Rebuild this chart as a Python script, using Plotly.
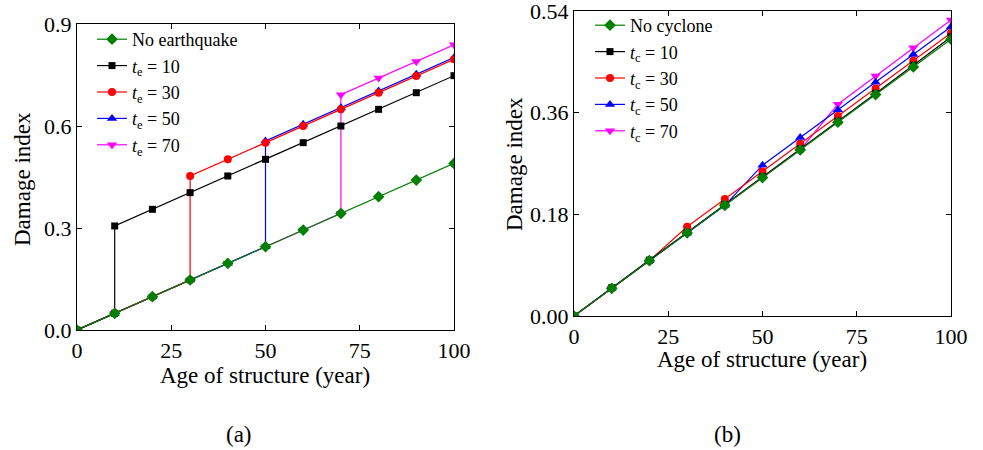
import plotly.graph_objects as go

# ---------------- data ----------------
years = [0, 10, 20, 30, 40, 50, 60, 70, 80, 90, 100]

# (a) earthquake
no_eq = [0, 0.049, 0.098, 0.147, 0.196, 0.245, 0.294, 0.343, 0.392, 0.441, 0.490]
te10_x = [0, 10, 10, 20, 30, 40, 50, 60, 70, 80, 90, 100]
te10_y = [0, 0.049, 0.306, 0.355, 0.404, 0.453, 0.502, 0.551, 0.600, 0.649, 0.698, 0.748]
te30_x = [0, 10, 20, 30, 30, 40, 50, 60, 70, 80, 90, 100]
te30_y = [0, 0.049, 0.098, 0.147, 0.453, 0.502, 0.551, 0.600, 0.649, 0.698, 0.747, 0.796]
te50_x = [0, 10, 20, 30, 40, 50, 50, 60, 70, 80, 90, 100]
te50_y = [0, 0.049, 0.098, 0.147, 0.196, 0.245, 0.556, 0.605, 0.654, 0.703, 0.752, 0.801]
te70_x = [0, 10, 20, 30, 40, 50, 60, 70, 70, 80, 90, 100]
te70_y = [0, 0.049, 0.098, 0.147, 0.196, 0.245, 0.294, 0.343, 0.692, 0.741, 0.790, 0.839]

# (b) cyclone
no_cy = [0, 0.049, 0.098, 0.147, 0.196, 0.245, 0.294, 0.343, 0.392, 0.441, 0.490]
tc10 = [0, 0.050, 0.099, 0.148, 0.197, 0.247, 0.296, 0.345, 0.394, 0.444, 0.494]
tc30 = [0, 0.049, 0.098, 0.158, 0.207, 0.256, 0.305, 0.354, 0.403, 0.452, 0.501]
tc50 = [0, 0.049, 0.098, 0.147, 0.196, 0.267, 0.316, 0.365, 0.414, 0.463, 0.512]
tc70 = [0, 0.049, 0.098, 0.147, 0.196, 0.245, 0.294, 0.375, 0.425, 0.475, 0.524]

x_ticks = [0, 25, 50, 75, 100]
ya_ticks = [0.0, 0.3, 0.6, 0.9]
ya_labels = ["0.0", "0.3", "0.6", "0.9"]
yb_ticks = [0.0, 0.18, 0.36, 0.54]
yb_labels = ["0.00", "0.18", "0.36", "0.54"]

GREEN, BLACK, RED, BLUE, MAG = "#008000", "#000000", "#FF0000", "#0000FF", "#FF00FF"
FONT = "Liberation Serif, Times New Roman, serif"

fig = go.Figure()

def add(x, y, name, color, symbol, xa, ya, legend, rank, size=8):
    fig.add_trace(go.Scatter(
        x=x, y=y, name=name, mode="lines+markers",
        line=dict(color=color, width=1.2),
        marker=dict(color=color, symbol=symbol, size=size),
        xaxis=xa, yaxis=ya, legend=legend, legendrank=rank))

# (a)
add(te70_x, te70_y, "<i>t</i><sub>e</sub> = 70", MAG, "triangle-down", "x", "y", "legend", 5, 9)
add(te50_x, te50_y, "<i>t</i><sub>e</sub> = 50", BLUE, "triangle-up", "x", "y", "legend", 4, 9)
add(te30_x, te30_y, "<i>t</i><sub>e</sub> = 30", RED, "circle", "x", "y", "legend", 3)
add(te10_x, te10_y, "<i>t</i><sub>e</sub> = 10", BLACK, "square", "x", "y", "legend", 2, 7)
add(years, no_eq, "No earthquake", GREEN, "diamond", "x", "y", "legend", 1, 9)

# (b)
add(years, tc70, "<i>t</i><sub>c</sub> = 70", MAG, "triangle-down", "x2", "y2", "legend2", 5, 9)
add(years, tc50, "<i>t</i><sub>c</sub> = 50", BLUE, "triangle-up", "x2", "y2", "legend2", 4, 9)
add(years, tc30, "<i>t</i><sub>c</sub> = 30", RED, "circle", "x2", "y2", "legend2", 3)
add(years, tc10, "<i>t</i><sub>c</sub> = 10", BLACK, "square", "x2", "y2", "legend2", 2, 7)
add(years, no_cy, "No cyclone", GREEN, "diamond", "x2", "y2", "legend2", 1, 9)

W, H = 983, 450
def px(v): return v / W
def py(v): return 1 - v / H

axis_common = dict(showline=True, linecolor="black", linewidth=1.3, mirror="ticks",
                   ticks="inside", ticklen=5, tickwidth=1, tickcolor="black",
                   showgrid=False, zeroline=False, automargin=False,
                   ticklabeloverflow="allow",
                   tickfont=dict(family=FONT, size=22, color="black"))

fig.update_layout(
    width=W, height=H, margin=dict(l=0, r=0, t=0, b=0, autoexpand=False),
    paper_bgcolor="white", plot_bgcolor="white",
    font=dict(family=FONT, color="black"),
    xaxis=dict(domain=[px(77), px(454)], range=[0, 100], tickvals=x_ticks,
               anchor="y", **axis_common),
    yaxis=dict(domain=[py(330), py(24)], range=[0, 0.9], tickvals=ya_ticks,
               ticktext=ya_labels, anchor="x", **axis_common),
    xaxis2=dict(domain=[px(574), px(951)], range=[0, 100], tickvals=x_ticks,
                anchor="y2", **axis_common),
    yaxis2=dict(domain=[py(316), py(11)], range=[0, 0.54], tickvals=yb_ticks,
                ticktext=yb_labels, anchor="x2", **axis_common),
    legend=dict(x=px(92), y=py(21), xanchor="left", yanchor="top",
                bgcolor="rgba(0,0,0,0)", font=dict(family=FONT, size=18),
                tracegroupgap=0, itemwidth=30),
    legend2=dict(x=px(590), y=py(7), xanchor="left", yanchor="top",
                 bgcolor="rgba(0,0,0,0)", font=dict(family=FONT, size=18),
                 tracegroupgap=0, itemwidth=30),
    showlegend=True,
)

ann_font = dict(family=FONT, size=23, color="black")
anns = [
    dict(text="Age of structure (year)", x=px(265), y=py(375)),
    dict(text="Age of structure (year)", x=px(762), y=py(359)),
    dict(text="Damage index", x=px(22), y=py(179), textangle=-90),
    dict(text="Damage index", x=px(514), y=py(164), textangle=-90),
    dict(text="(a)", x=px(239), y=py(434)),
    dict(text="(b)", x=px(727), y=py(434)),
]
for a in anns:
    fig.add_annotation(xref="paper", yref="paper", showarrow=False,
                       xanchor="center", yanchor="middle", font=ann_font, **a)

fig.write_html("out.html")
